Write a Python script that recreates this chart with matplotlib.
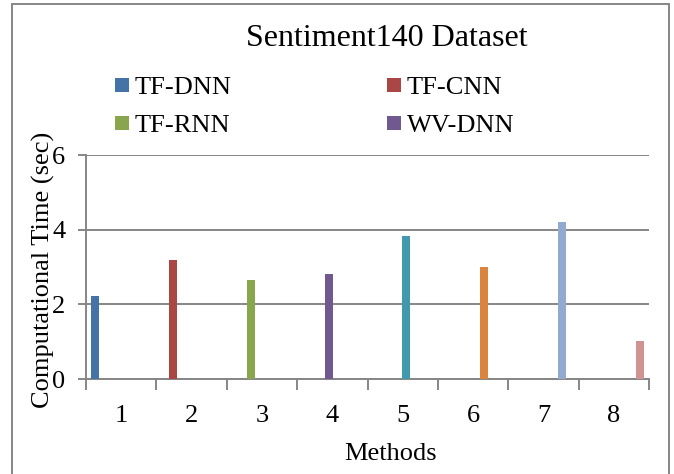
import matplotlib
matplotlib.use("Agg")
import matplotlib.pyplot as plt
from matplotlib.patches import Rectangle
import numpy as np

plt.rcParams['font.family'] = ['Liberation Serif', 'DejaVu Serif']

# ---- data ----
categories = ["1", "2", "3", "4", "5", "6", "7", "8"]
values = [2.22, 3.19, 2.65, 2.81, 3.83, 3.00, 4.21, 1.02]
colors = ['#4572A7', '#AA4643', '#89A54E', '#71588F',
          '#4198AF', '#DB843D', '#93A9CF', '#D19392']
legend_labels = ["TF-DNN", "TF-CNN", "TF-RNN", "WV-DNN"]
yticks = [0, 2, 4, 6]
title = "Sentiment140 Dataset"
xlabel = "Methods"
ylabel = "Computational Time (sec)"

W, H = 674, 474
fig = plt.figure(figsize=(W / 100, H / 100), dpi=100)
fig.patch.set_facecolor('white')

def fx(px):
    return px / W

def fy(py):
    return 1 - py / H

left, right, top, bottom = 86, 649, 155, 379
ax = fig.add_axes([fx(left), fy(bottom), (right - left) / W, (bottom - top) / H])

gray = '#868686'
n = len(values)
step = 0.105
barw = 0.112
x = np.arange(1, n + 1)
offsets = -0.42 + step * (np.arange(n) + 0.5)
bars = []
for i in range(n):
    b = ax.bar(x[i] + offsets[i], values[i], width=barw, color=colors[i], zorder=3)
    bars.append(b)

ax.set_xlim(0.5, n + 0.5)
ax.set_ylim(0, 6)
ax.set_yticks(yticks)
ax.set_yticklabels([str(t) for t in yticks])
ax.yaxis.grid(True, color=gray, linewidth=1.4, zorder=0)
ax.set_axisbelow(True)

# major ticks at boundaries, labels at centers
ax.set_xticks(np.arange(0.5, n + 1, 1.0))
ax.set_xticklabels([])
ax.set_xticks(x, minor=True)
ax.set_xticklabels(categories, minor=True)
ax.tick_params(axis='x', which='major', length=8, width=1.4, color=gray, direction='out')
ax.tick_params(axis='x', which='minor', length=0, pad=19, labelsize=19)
ax.tick_params(axis='y', which='major', length=6, width=1.4, color=gray, direction='out',
               pad=9, labelsize=19)

for s in ['top', 'right']:
    ax.spines[s].set_visible(False)
for s in ['left', 'bottom']:
    ax.spines[s].set_color(gray)
    ax.spines[s].set_linewidth(1.4)

# texts
fig.text(fx(387), fy(46.5), title, ha='center', va='baseline', fontsize=23)
fig.text(fx(391), fy(460), xlabel, ha='center', va='baseline', fontsize=19)
fig.text(fx(43), fy(270), ylabel, ha='center', va='center', rotation=90, fontsize=19)

# legend (first four series), drawn in figure pixels
leg_pos = [(115, 85), (387, 85), (115, 123), (387, 123)]
leg_order = [0, 1, 2, 3]
for k, (px, py) in zip(leg_order, leg_pos):
    fig.add_artist(Rectangle((fx(px), fy(py + 7)), 14 / W, 14 / H,
                             transform=fig.transFigure, facecolor=colors[k],
                             edgecolor='none'))
    fig.text(fx(px + 20), fy(py + 8.5), legend_labels[k], ha='left', va='baseline',
             fontsize=19)

# outer border
fig.add_artist(Rectangle((fx(12), fy(H + 10)), (669 - 12) / W, (H + 10 - 4) / H,
                         transform=fig.transFigure, fill=False, edgecolor=gray,
                         linewidth=1.4, clip_on=False))

fig.savefig("out.png", dpi=100)
